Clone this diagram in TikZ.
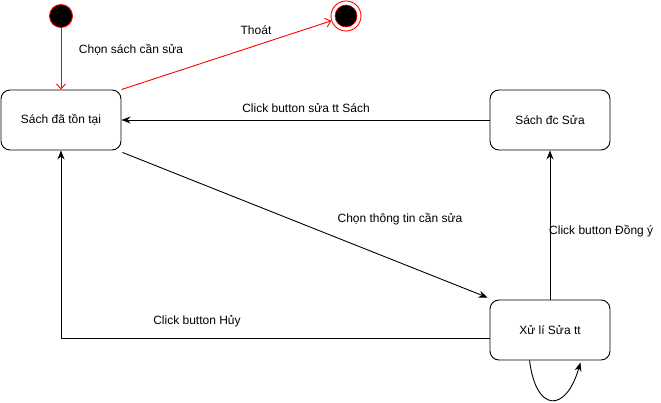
\documentclass[tikz,border=0pt]{standalone}
\usepackage{fontspec}
\setmainfont{Liberation Sans}
\usetikzlibrary{arrows.meta}
\definecolor{myred}{HTML}{FF0000}
\begin{document}
\begin{tikzpicture}[x=1pt,y=-1pt,
  statebox/.style={draw,rounded corners=9pt,minimum width=120pt,minimum height=60pt,line width=0.9pt,font=\fontsize{12}{14}\selectfont,inner sep=0pt},
  lbl/.style={font=\fontsize{12}{14}\selectfont,inner sep=0pt},
  blk/.style={line width=0.9pt,-{Stealth[length=9pt,width=7pt,inset=3pt]}},
  redarr/.style={line width=0.9pt,draw=myred,-{Straight Barb[length=5pt,width=9pt]}}]
\useasboundingbox (0,0) rectangle (661,403);
\node[circle,fill=black,draw=myred,line width=0.9pt,minimum size=23pt,inner sep=0pt] (init) at (61,16) {};
\node[circle,draw=myred,line width=0.9pt,minimum size=30pt,inner sep=0pt] (fin) at (346,16) {};
\node[circle,fill=black,draw=myred,line width=0.6pt,minimum size=22pt,inner sep=0pt] (fininner) at (346,16) {};
\node[statebox] (s1) at (61,120) {Sách đã tồn tại};
\node[statebox] (s2) at (550,120) {Sách đc Sửa};
\node[statebox] (s3) at (550,330) {Xử lí Sửa tt};

\draw[redarr] (init) -- (s1);
\draw[redarr] (s1.north east) -- (fin);
\draw[blk] (s2.west) -- (s1.east);
\draw[blk] ([xshift=1pt,yshift=-2pt]s1.south east) -- ([xshift=-2pt,yshift=2pt]s3.north west);
\draw[blk] (s3.north) -- (s2.south);
\draw[blk] ([yshift=-8pt]s3.west) -| (s1.south);
\draw[blk] ([xshift=40pt]s3.south west) .. controls (536,413) and (566,413) .. ([xshift=-30pt,yshift=-2pt]s3.south east);

\node[lbl] (l1) at (131,50) {Chọn sách cần sửa};
\node[lbl] (l2) at (256,30) {Thoát};
\node[lbl] (l3) at (306,108) {Click button sửa tt Sách};
\node[lbl] (l4) at (400,219) {Chọn thông tin cần sửa};
\node[lbl,anchor=west] (l5) at (549,231) {Click button Đồng ý};
\node[lbl] (l6) at (197,321) {Click button Hủy};
\end{tikzpicture}
\end{document}
